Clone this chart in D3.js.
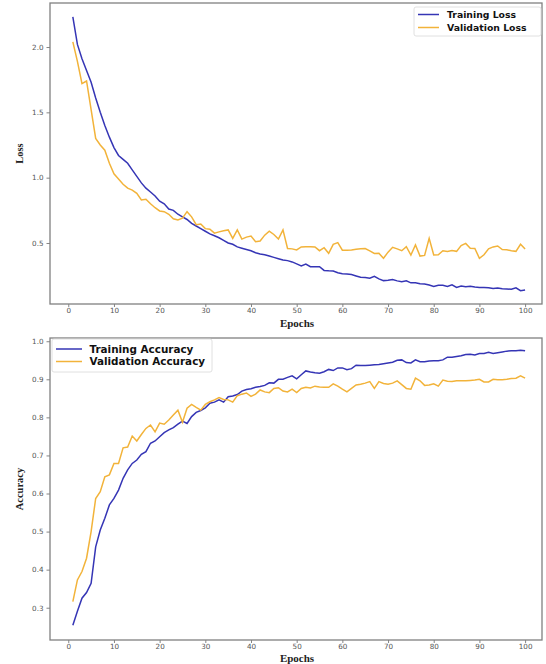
<!DOCTYPE html>
<html><head><meta charset="utf-8">
<script src="https://cdn.jsdelivr.net/npm/d3@7"></script>
<style>body{margin:0;background:#fff}svg{display:block}</style>
</head><body>
<script>
const epochs = d3.range(1, 101);
const trainLoss = [2.23,2.02,1.91,1.82,1.73,1.61,1.50,1.40,1.31,1.23,1.17,1.14,1.11,1.06,1.01,0.96,0.92,0.89,0.86,0.82,
0.80,0.76,0.75,0.72,0.70,0.68,0.65,0.63,0.61,0.59,0.57,0.555,0.54,0.52,0.50,0.49,0.47,0.46,0.45,0.44,
0.425,0.415,0.41,0.40,0.39,0.38,0.37,0.365,0.355,0.34,0.325,0.338,0.318,0.318,0.318,0.29,0.287,0.285,0.272,0.265,
0.263,0.258,0.248,0.238,0.235,0.23,0.245,0.225,0.212,0.215,0.22,0.21,0.204,0.21,0.195,0.195,0.188,0.186,0.178,0.167,
0.177,0.177,0.168,0.18,0.16,0.17,0.165,0.168,0.163,0.16,0.16,0.158,0.152,0.156,0.15,0.148,0.146,0.157,0.135,0.14];
const valLoss = [2.04,1.89,1.72,1.74,1.52,1.30,1.25,1.21,1.11,1.03,0.99,0.95,0.92,0.905,0.88,0.83,0.835,0.80,0.77,0.745,
0.74,0.72,0.685,0.676,0.69,0.74,0.70,0.64,0.645,0.61,0.605,0.575,0.585,0.594,0.60,0.535,0.60,0.53,0.545,0.553,
0.51,0.515,0.56,0.59,0.565,0.53,0.60,0.458,0.455,0.447,0.47,0.472,0.472,0.47,0.441,0.464,0.421,0.49,0.503,0.445,
0.444,0.447,0.452,0.456,0.457,0.44,0.42,0.421,0.383,0.43,0.467,0.455,0.441,0.472,0.408,0.485,0.40,0.405,0.536,0.408,
0.41,0.441,0.435,0.442,0.436,0.48,0.497,0.46,0.458,0.383,0.41,0.455,0.47,0.477,0.45,0.448,0.44,0.436,0.49,0.454];
const trainAcc = [0.254,0.291,0.325,0.34,0.364,0.46,0.504,0.535,0.57,0.587,0.609,0.64,0.662,0.679,0.688,0.703,0.71,0.732,0.738,0.749,
0.76,0.767,0.773,0.782,0.79,0.784,0.802,0.813,0.818,0.825,0.837,0.84,0.846,0.84,0.854,0.856,0.86,0.869,0.873,0.875,
0.879,0.881,0.884,0.891,0.89,0.90,0.90,0.905,0.909,0.901,0.912,0.922,0.919,0.917,0.916,0.92,0.926,0.923,0.93,0.93,
0.925,0.928,0.937,0.936,0.936,0.937,0.938,0.939,0.941,0.943,0.945,0.95,0.951,0.944,0.943,0.951,0.946,0.946,0.948,0.949,
0.949,0.951,0.958,0.958,0.96,0.962,0.965,0.966,0.964,0.968,0.968,0.971,0.968,0.97,0.972,0.974,0.975,0.975,0.976,0.975];
const valAcc = [0.316,0.373,0.395,0.43,0.50,0.587,0.605,0.644,0.649,0.679,0.679,0.72,0.722,0.751,0.738,0.755,0.771,0.78,0.762,0.785,
0.782,0.793,0.806,0.819,0.787,0.824,0.834,0.826,0.819,0.834,0.841,0.846,0.852,0.847,0.846,0.84,0.857,0.861,0.864,0.855,
0.861,0.872,0.867,0.865,0.876,0.878,0.869,0.867,0.874,0.865,0.876,0.879,0.877,0.882,0.88,0.879,0.879,0.888,0.882,0.874,
0.867,0.876,0.885,0.887,0.89,0.894,0.876,0.894,0.889,0.887,0.89,0.896,0.886,0.876,0.874,0.903,0.896,0.884,0.885,0.888,
0.882,0.898,0.895,0.894,0.896,0.896,0.896,0.897,0.898,0.9,0.893,0.893,0.9,0.899,0.899,0.9,0.902,0.903,0.909,0.903];
const xTicks = [0,10,20,30,40,50,60,70,80,90,100];
const lossTicks = [0.5,1.0,1.5,2.0];
const accTicks = [0.3,0.4,0.5,0.6,0.7,0.8,0.9,1.0];
const lossLegend = ["Training Loss","Validation Loss"];
const accLegend = ["Training Accuracy","Validation Accuracy"];

const BLUE = "#3535b5", ORANGE = "#f2b33a";
const W = 546, H = 664;
const svg = d3.select("body").append("svg").attr("width", W).attr("height", H);

function panel(cfg){
  const x = d3.scaleLinear().domain([-4, 103.7]).range([50, 542]);
  const y = d3.scaleLinear().domain(cfg.ydom).range([cfg.bottom, cfg.top]);
  const g = svg.append("g");
  const line = d3.line().x((d,i)=>x(epochs[i])).y(d=>y(d));
  const xa = g.append("g").attr("transform",`translate(0,${cfg.bottom})`)
    .call(d3.axisBottom(x).tickValues(xTicks).tickSize(3).tickPadding(1).tickFormat(d3.format("d")));
  const ya = g.append("g").attr("transform",`translate(50,0)`)
    .call(d3.axisLeft(y).tickValues(cfg.yticks).tickSize(3.5).tickPadding(3).tickFormat(d3.format(".1f")));
  [xa,ya].forEach(a=>{
    a.select(".domain").remove();
    a.selectAll(".tick line").attr("stroke","#666").attr("stroke-width",0.8);
    a.selectAll(".tick text").attr("fill","#555").style("font-family","DejaVu Sans").style("font-size","7.2px");
  });
  g.append("rect").attr("x",50).attr("y",cfg.top).attr("width",492).attr("height",cfg.bottom-cfg.top)
    .attr("fill","none").attr("stroke","#808080").attr("stroke-width",1.3);
  g.append("path").datum(cfg.s1).attr("d",line).attr("fill","none").attr("stroke",BLUE).attr("stroke-width",1.5);
  g.append("path").datum(cfg.s2).attr("d",line).attr("fill","none").attr("stroke",ORANGE).attr("stroke-width",1.5);
  g.append("text").attr("x",297).attr("y",cfg.bottom+cfg.xlOff).attr("text-anchor","middle")
    .style("font-family","Liberation Serif").style("font-weight","bold").style("font-size","11px").attr("fill","#222").text("Epochs");
  g.append("text").attr("transform",`translate(23,${(cfg.top+cfg.bottom)/2}) rotate(-90)`).attr("text-anchor","middle")
    .style("font-family","Liberation Serif").style("font-weight","bold").style("font-size","10.5px").attr("fill","#222").text(cfg.ylabel);
  const L = cfg.legend;
  g.append("rect").attr("x",L.x).attr("y",L.y).attr("width",L.w).attr("height",L.h).attr("rx",2)
    .attr("fill","#fff").attr("stroke","#d8d8d8").attr("stroke-width",0.8);
  L.names.forEach((n,i)=>{
    const cy = L.y + L.r0 + i*L.dy;
    g.append("line").attr("x1",L.x+4).attr("x2",L.x+L.hw).attr("y1",cy).attr("y2",cy)
      .attr("stroke",i?ORANGE:BLUE).attr("stroke-width",1.5);
    g.append("text").attr("x",L.x+L.tx).attr("y",cy).attr("dy","0.35em")
      .style("font-family","DejaVu Sans").style("font-weight","bold").style("font-size",L.fs+"px").attr("fill","#111").text(n);
  });
}

panel({ydom:[0.033,2.337], top:3, bottom:304, yticks:lossTicks, s1:trainLoss, s2:valLoss, ylabel:"Loss", xlOff:22.5,
  legend:{x:414,y:7,w:127,h:29,r0:7.5,dy:13,hw:25,tx:33,fs:9.3,names:lossLegend}});
panel({ydom:[0.2152,1.0085], top:338, bottom:640, yticks:accTicks, s1:trainAcc, s2:valAcc, ylabel:"Accuracy", xlOff:21.5,
  legend:{x:52,y:339,w:160,h:33,r0:10,dy:12.5,hw:30,tx:37.5,fs:10.4,names:accLegend}});
</script>
</body></html>
